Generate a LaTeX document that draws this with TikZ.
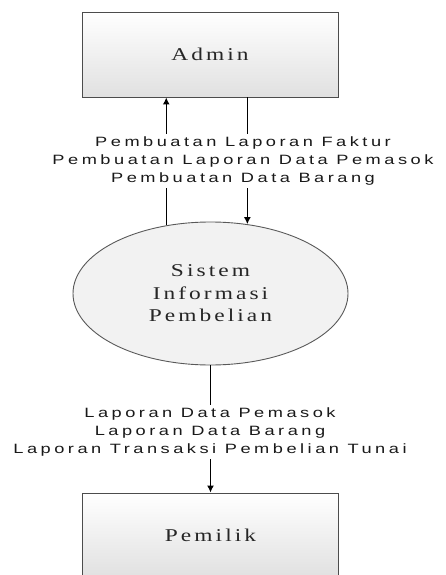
\documentclass[tikz,border=0pt]{standalone}
\usepackage{fontspec}
\setmainfont{Liberation Serif}
\newfontfamily\boxfont[FakeStretch=1.3,LetterSpace=17]{Liberation Serif}
\newfontfamily\lblfont[FakeStretch=1.35,LetterSpace=26]{Liberation Sans}
\usetikzlibrary{shapes.geometric,arrows.meta}
\tikzset{
  entity/.style={draw=black!70, line width=0.9pt, top color=white, bottom color=black!12,
    minimum width=256pt, minimum height=85pt, inner sep=0pt,
    font=\boxfont\fontsize{18}{22}\selectfont, text=black!85},
  proc/.style={ellipse, draw=black!65, line width=0.9pt, fill=black!5,
    minimum width=275pt, minimum height=143pt, inner sep=0pt, align=center,
    font=\boxfont\fontsize{18}{22.5}\selectfont, text=black!85},
  flow/.style={draw=black, line width=1.4pt, -{Latex[length=7pt,width=7pt]}},
  lbl/.style={fill=white, align=center, inner sep=3pt, text=black!90,
    font=\lblfont\fontsize{13.5}{18}\selectfont}
}
\begin{document}
\begin{tikzpicture}[x=1pt,y=-1pt]
\useasboundingbox (0,0) rectangle (446,575);
\clip (0,0) rectangle (446,575);
\node[entity] (admin) at (210,54.5) {Admin};
\node[proc] (sip) at (210.5,293.5) {Sistem\\Informasi\\Pembelian};
\node[entity] (pemilik) at (210.5,535.5) {Pemilik};
\draw[flow] (sip.123.2) -- (sip.123.2 |- admin.south);
\draw[flow] (admin.south -| sip.62.9) -- (sip.62.9);
\draw[flow] (sip.south) -- (pemilik.north);
\node[lbl] (lup) at (243,161) {Pembuatan Laporan Faktur\\Pembuatan Laporan Data Pemasok\\Pembuatan Data Barang};
\node[lbl] (ldown) at (210,432) {Laporan Data Pemasok\\Laporan Data Barang\\Laporan Transaksi Pembelian Tunai};
\end{tikzpicture}
\end{document}
